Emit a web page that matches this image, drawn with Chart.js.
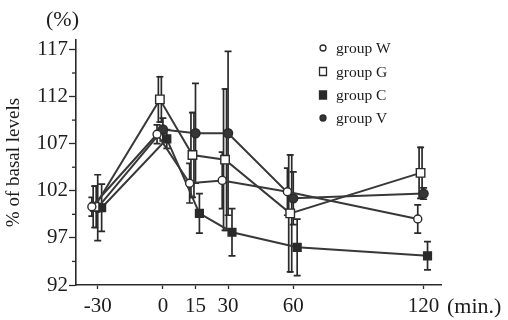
<!DOCTYPE html>
<html>
<head>
<meta charset="utf-8">
<script src="https://cdn.jsdelivr.net/npm/chart.js@4.4.0/dist/chart.umd.min.js"></script>
<style>
  html, body { margin: 0; padding: 0; background: #fff; }
  #wrap { width: 508px; height: 320px; position: relative; }
</style>
</head>
<body>
<div id="wrap"><canvas id="chart"></canvas></div>
<script>
// time points (min.) and group means / error bars (% of basal levels)
const times = [-30, 0, 15, 30, 60, 120];
const groupW = [100.3, 108.0, 102.8, 103.1, 101.9, 99.0];
const errW   = [1.0, 1.0, 2.1, 3.0, 2.5, 1.5];
const groupG = [100.3, 111.7, 105.8, 105.3, 99.6, 103.9];
const errG   = [2.2, 2.4, 4.5, 7.5, 6.2, 2.7];
const groupC = [100.2, 107.5, 99.6, 97.6, 96.0, 95.1];
const errC   = [2.5, 1.0, 2.1, 2.5, 3.0, 1.5];
const groupV = [100.2, 108.5, 108.1, 108.1, 101.2, 101.7];
const errV   = [3.5, 1.2, 5.3, 8.7, 2.8, 0.6];

const xTicks = [-30, 0, 15, 30, 60, 120];
const yMajorTicks = [92, 97, 102, 107, 112, 117];
const yMinorTicks = [94.5, 99.5, 104.5, 109.5, 114.5];

const ink = '#2a2a2a';
const serif = '"Liberation Serif", "Times New Roman", serif';

// shift: small horizontal offset (min.) so the groups don't sit on top of each other
const groups = [
  { label: 'group W', values: groupW, err: errW, shift: -2.7, style: 'circle', fill: '#fff', radius: 4, hollowBar: false },
  { label: 'group G', values: groupG, err: errG, shift: -1.4, style: 'rect', fill: '#fff', radius: 6, hollowBar: true },
  { label: 'group C', values: groupC, err: errC, shift: 1.8, style: 'rect', fill: ink, radius: 5.5, hollowBar: false },
  { label: 'group V', values: groupV, err: errV, shift: 0, style: 'circle', fill: '#363636', radius: 4.5, hollowBar: false }
];

const errorBars = {
  id: 'errorBars',
  beforeDatasetsDraw(chart){
    const { ctx, scales: { x, y } } = chart;
    ctx.save();
    chart.data.datasets.forEach((ds) => {
      ds.data.forEach((p, i) => {
        const e = ds.err[i];
        const px = x.getPixelForValue(p.x);
        const top = y.getPixelForValue(p.y + e);
        const bot = y.getPixelForValue(p.y - e);
        ctx.strokeStyle = ink;
        ctx.lineWidth = 1.7;
        if (ds.hollowBar){
          ctx.fillStyle = '#fff';
          ctx.fillRect(px - 1.5, top, 3, bot - top);
          ctx.strokeRect(px - 1.5, top, 3, bot - top);
        } else {
          ctx.beginPath();
          ctx.moveTo(px, top); ctx.lineTo(px, bot);
          ctx.stroke();
        }
        ctx.beginPath();
        ctx.moveTo(px - 3.5, top); ctx.lineTo(px + 3.5, top);
        ctx.moveTo(px - 3.5, bot); ctx.lineTo(px + 3.5, bot);
        ctx.stroke();
      });
    });
    ctx.restore();
  }
};

const extras = {
  id: 'extras',
  afterDraw(chart){
    const { ctx, scales: { x, y } } = chart;
    ctx.save();
    // minor ticks on y axis
    ctx.strokeStyle = ink;
    ctx.lineWidth = 1.3;
    yMinorTicks.forEach(v => {
      const py = y.getPixelForValue(v);
      ctx.beginPath();
      ctx.moveTo(x.left - 4, py); ctx.lineTo(x.left, py);
      ctx.stroke();
    });
    ctx.fillStyle = '#1c1c1c';
    ctx.font = '22px ' + serif;
    ctx.textBaseline = 'middle';
    ctx.textAlign = 'left';
    ctx.fillText('(%)', 46, 20);
    ctx.fillText('(min.)', 447, 307);

    // legend
    const lx = 323, rows = [48, 71.5, 95, 118];
    ctx.font = '15.5px ' + serif;
    groups.forEach((g, i) => {
      const ly = rows[i];
      ctx.lineWidth = 1.3;
      ctx.strokeStyle = ink;
      ctx.fillStyle = g.fill;
      ctx.beginPath();
      if (g.style === 'circle') ctx.arc(lx, ly, 3, 0, Math.PI * 2);
      else ctx.rect(lx - 3.5, ly - 4, 7, 8);
      ctx.fill();
      ctx.stroke();
      ctx.fillStyle = '#1c1c1c';
      ctx.fillText(g.label, 336, ly + 1);
    });
    ctx.restore();
  }
};

new Chart(document.getElementById('chart'), {
  type: 'line',
  data: {
    datasets: groups.map(g => ({
      label: g.label,
      data: times.map((t, i) => ({ x: t + g.shift, y: g.values[i] })),
      err: g.err,
      hollowBar: g.hollowBar,
      borderColor: '#383838',
      borderWidth: 2,
      pointStyle: g.style,
      pointRadius: g.radius,
      pointBackgroundColor: g.fill,
      pointBorderColor: ink,
      pointBorderWidth: 1.4,
      tension: 0
    }))
  },
  options: {
    responsive: true,
    maintainAspectRatio: false,
    animation: false,
    layout: { padding: { top: 40, right: 67, left: 0, bottom: 0 } },
    plugins: { legend: { display: false }, tooltip: { enabled: false } },
    scales: {
      x: {
        type: 'linear',
        min: -40,
        max: 128,
        afterBuildTicks: s => { s.ticks = xTicks.map(v => ({ value: v })); },
        afterFit: s => { s.height = 35; },
        border: { color: ink, width: 1.6 },
        grid: { drawOnChartArea: false, drawTicks: true, tickLength: 4, color: ink, tickWidth: 1.3 },
        ticks: { color: '#1c1c1c', font: { family: serif, size: 21 }, padding: 5, maxRotation: 0, autoSkip: false }
      },
      y: {
        min: 92,
        max: 118,
        afterBuildTicks: s => { s.ticks = yMajorTicks.map(v => ({ value: v })); },
        afterFit: s => { s.width = 76; },
        border: { color: ink, width: 1.6 },
        grid: { drawOnChartArea: false, drawTicks: true, tickLength: 7, color: ink, tickWidth: 1.3 },
        ticks: { color: '#1c1c1c', font: { family: serif, size: 21 }, padding: 1 },
        title: { display: true, text: '% of basal levels', color: '#1c1c1c', font: { family: serif, size: 19 }, padding: { top: 3, bottom: 0 } }
      }
    }
  },
  plugins: [errorBars, extras]
});
</script>
</body>
</html>
